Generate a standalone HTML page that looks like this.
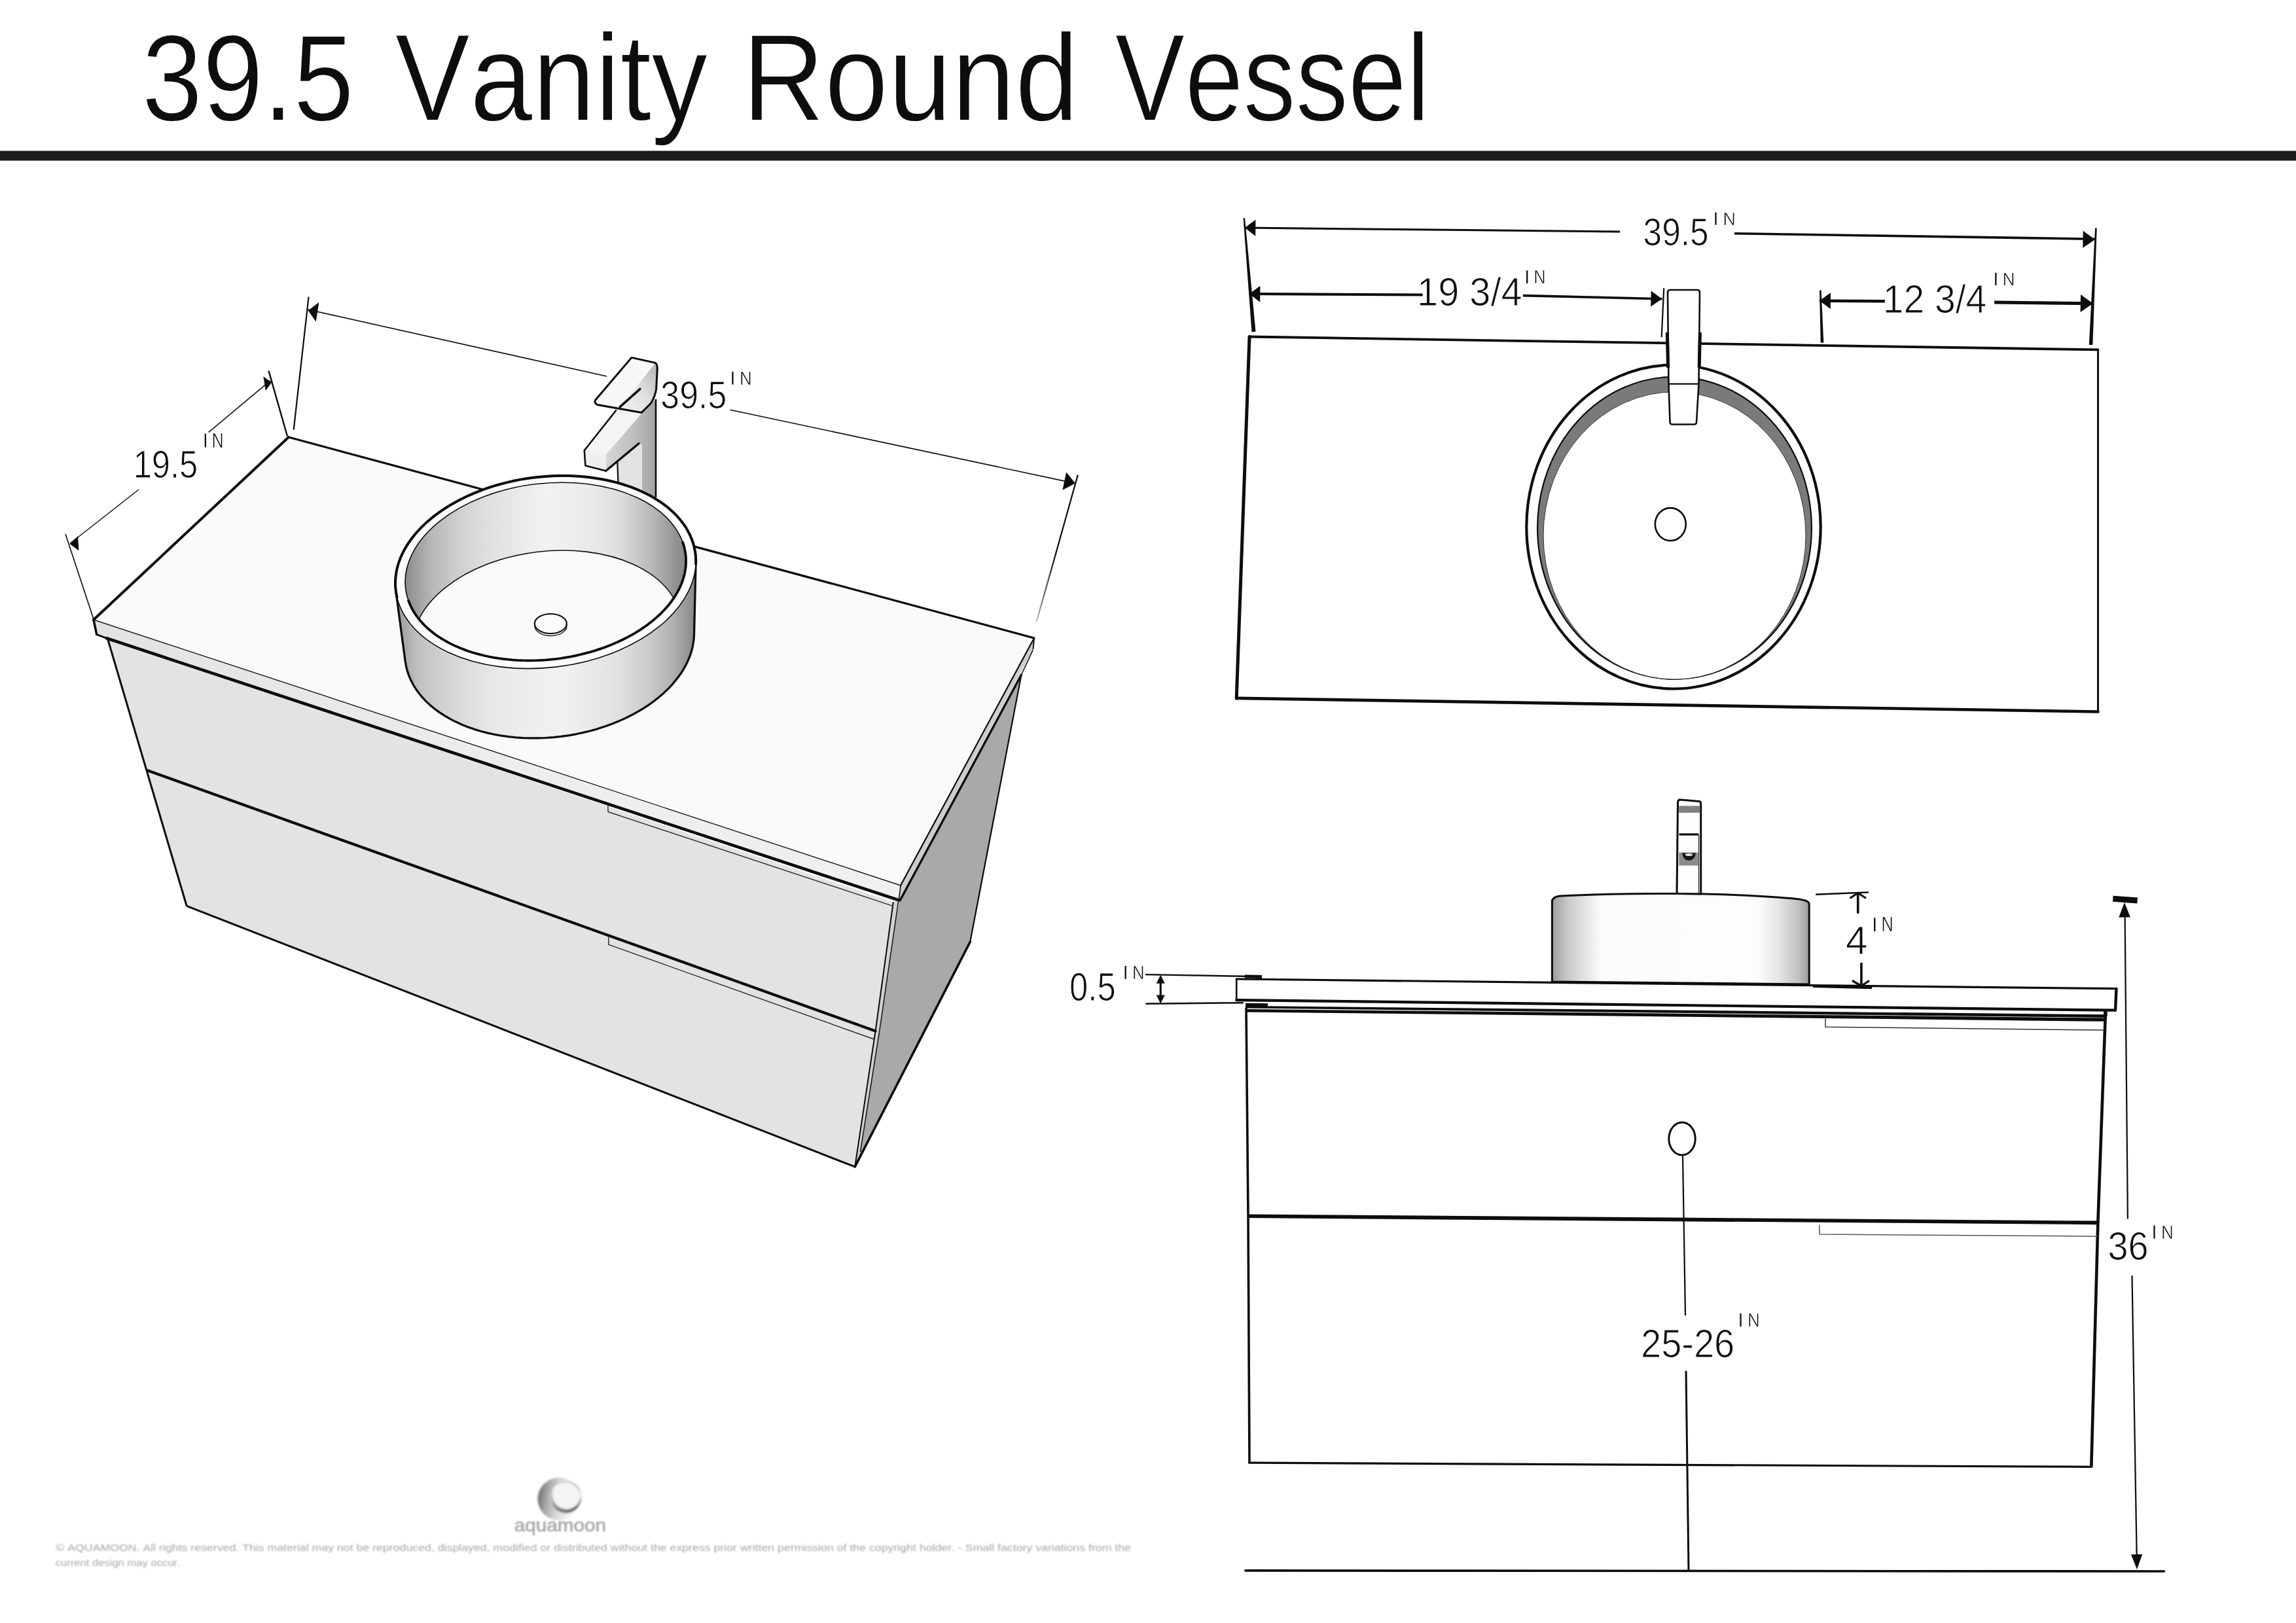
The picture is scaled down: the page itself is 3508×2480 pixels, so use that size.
<!DOCTYPE html>
<html><head><meta charset="utf-8"><title>39.5 Vanity Round Vessel</title>
<style>html,body{margin:0;padding:0;background:#fff;}body{width:3508px;height:2480px;overflow:hidden;}svg{display:block;font-family:"Liberation Sans",sans-serif;font-kerning:none;}</style>
</head><body>
<svg width="3508" height="2480" viewBox="0 0 3508 2480">
<defs>
<linearGradient id="gBody" gradientUnits="userSpaceOnUse" x1="604" y1="0" x2="1063" y2="0">
<stop offset="0" stop-color="#9c9c9c"/><stop offset="0.02" stop-color="#a2a2a2"/><stop offset="0.074" stop-color="#c0c0c0"/><stop offset="0.18" stop-color="#d5d5d5"/><stop offset="0.32" stop-color="#e8e8e8"/>
<stop offset="0.55" stop-color="#f2f2f2"/><stop offset="0.75" stop-color="#e0e0e0"/><stop offset="0.854" stop-color="#c8c8c8"/><stop offset="0.924" stop-color="#b0b0b0"/><stop offset="0.987" stop-color="#8e8e8e"/><stop offset="1" stop-color="#888"/>
</linearGradient>
<linearGradient id="gWall" gradientUnits="userSpaceOnUse" x1="618" y1="0" x2="1050" y2="0" gradientTransform="rotate(7 833.6 873.3)">
<stop offset="0" stop-color="#888"/><stop offset="0.046" stop-color="#a0a0a0"/><stop offset="0.10" stop-color="#b8b8b8"/><stop offset="0.195" stop-color="#d0d0d0"/><stop offset="0.305" stop-color="#e1e1e1"/>
<stop offset="0.5" stop-color="#f2f2f2"/><stop offset="0.66" stop-color="#eaeaea"/><stop offset="0.76" stop-color="#dedede"/><stop offset="0.875" stop-color="#b8b8b8"/><stop offset="0.965" stop-color="#909090"/><stop offset="1" stop-color="#888"/>
</linearGradient>
<linearGradient id="gFBasin" gradientUnits="userSpaceOnUse" x1="2371" y1="0" x2="2764" y2="0">
<stop offset="0" stop-color="#9c9c9c"/><stop offset="0.06" stop-color="#c8c8c8"/><stop offset="0.19" stop-color="#fbfbfb"/>
<stop offset="0.80" stop-color="#fdfdfd"/><stop offset="0.88" stop-color="#e6e6e6"/><stop offset="0.96" stop-color="#c0c0c0"/><stop offset="1" stop-color="#9a9a9a"/>
</linearGradient>
<linearGradient id="gLever" gradientUnits="userSpaceOnUse" x1="950" y1="620" x2="1004" y2="570">
<stop offset="0" stop-color="#f0f0f0"/><stop offset="0.5" stop-color="#e0e0e0"/><stop offset="1" stop-color="#bdbdbd"/>
</linearGradient>
<linearGradient id="gSpout" gradientUnits="userSpaceOnUse" x1="925" y1="0" x2="1002" y2="0">
<stop offset="0" stop-color="#d8d8d8"/><stop offset="0.6" stop-color="#bcbcbc"/><stop offset="1" stop-color="#a4a4a4"/>
</linearGradient>
<linearGradient id="gStrip" gradientUnits="userSpaceOnUse" x1="143" y1="0" x2="1376" y2="0">
<stop offset="0" stop-color="#e2e2e2"/><stop offset="0.5" stop-color="#ededed"/><stop offset="1" stop-color="#f0f0f0"/>
</linearGradient>
<linearGradient id="gLogoA" x1="0" y1="0.4" x2="1" y2="0.55">
<stop offset="0" stop-color="#6e6e6e"/><stop offset="0.22" stop-color="#a8a8a8"/><stop offset="0.5" stop-color="#dadada"/><stop offset="0.8" stop-color="#f6f6f6"/><stop offset="1" stop-color="#ffffff"/>
</linearGradient>
<linearGradient id="gLogoB" x1="0.1" y1="0.1" x2="0.6" y2="1">
<stop offset="0" stop-color="#d8dcdc"/><stop offset="0.5" stop-color="#a0a6a6"/><stop offset="1" stop-color="#646a6a"/>
</linearGradient>
<filter id="blur1" x="-5%" y="-20%" width="110%" height="140%"><feGaussianBlur stdDeviation="1.25"/></filter>
<filter id="blur2" x="-20%" y="-20%" width="140%" height="140%"><feGaussianBlur stdDeviation="1.4"/></filter>
<filter id="soft"><feGaussianBlur stdDeviation="0.55"/></filter>
</defs>
<rect width="3508" height="2480" fill="#ffffff"/>
<g filter="url(#soft)">
<text transform="translate(216.85,183.81) scale(0.8834,1)" font-size="188.40" fill="#0c0c0c"  stroke="#fff" stroke-width="1.8">39.5</text>
<text transform="translate(603.43,183.81) scale(0.9123,1)" font-size="188.40" fill="#0c0c0c"  stroke="#fff" stroke-width="1.8">Vanity</text>
<text transform="translate(1133.88,183.81) scale(0.9261,1)" font-size="188.40" fill="#0c0c0c"  stroke="#fff" stroke-width="1.8">Round</text>
<text transform="translate(1703.49,183.81) scale(0.8507,1)" font-size="188.40" fill="#0c0c0c"  stroke="#fff" stroke-width="1.8">Vessel</text>
<rect x="0" y="230.5" width="3508" height="15" fill="#1b1b1b"/>
<path d="M1374.0,1376.0 L1560.5,1031.0 L1482.2,1439.2 L1306.2,1782.9 Z" fill="#a9a9a9" stroke-linejoin="round" />
<path d="M1364.8,1378.4 L1373.0,1376.0 L1343.5,1577.0 L1314.5,1760.0 L1306.2,1782.9 L1337.6,1575.4 Z" fill="#d2d2d2" stroke-linejoin="round" />
<path d="M164.4,975.8 L1364.8,1378.4 L1337.6,1575.4 L1306.2,1782.9 L285.2,1384.3 Z" fill="#e3e3e3" stroke-linejoin="round" />
<path d="M1580.0,975.0 L1376.0,1353.0 L1373.3,1375.5 L1578.5,992.0 Z" fill="#cdcdcd" stroke-linejoin="round" />
<path d="M143.0,947.0 L1376.0,1353.0 L1373.3,1375.5 L147.7,969.5 Z" fill="url(#gStrip)" stroke-linejoin="round" />
<path d="M441.0,668.0 L1580.0,975.0 L1376.0,1353.0 L143.0,947.0 Z" fill="#fafafa" stroke-linejoin="round" />
<line x1="164.4" y1="975.8" x2="285.2" y2="1384.3" stroke="#0a0a0a" stroke-width="3" stroke-linecap="butt" />
<line x1="285.2" y1="1384.3" x2="1306.2" y2="1782.9" stroke="#0a0a0a" stroke-width="3" stroke-linecap="butt" />
<line x1="1364.8" y1="1378.4" x2="1337.6" y2="1575.4" stroke="#0a0a0a" stroke-width="2" stroke-linecap="butt" />
<line x1="1337.6" y1="1575.4" x2="1306.2" y2="1782.9" stroke="#0a0a0a" stroke-width="2" stroke-linecap="butt" />
<line x1="1372.5" y1="1378.0" x2="1343.5" y2="1577.0" stroke="#1a1a1a" stroke-width="1.6" stroke-linecap="butt" />
<line x1="1343.5" y1="1577.0" x2="1314.5" y2="1760.0" stroke="#1a1a1a" stroke-width="1.6" stroke-linecap="butt" />
<line x1="225.4" y1="1177.3" x2="1337.6" y2="1575.4" stroke="#0a0a0a" stroke-width="4.2" stroke-linecap="round" />
<path d="M929.0,1229.0 L929.0,1240.5 L1364.8,1384.7" fill="none" stroke="#2a2a2a" stroke-width="1.4" stroke-linejoin="round" />
<path d="M929.8,1431.0 L929.8,1443.4 L1335.5,1588.0" fill="none" stroke="#2a2a2a" stroke-width="1.4" stroke-linejoin="round" />
<line x1="1560.5" y1="1031.0" x2="1482.2" y2="1439.2" stroke="#0a0a0a" stroke-width="2.2" stroke-linecap="butt" />
<line x1="1482.2" y1="1439.2" x2="1306.2" y2="1782.9" stroke="#0a0a0a" stroke-width="3.6" stroke-linecap="round" />
<line x1="1374.5" y1="1377.0" x2="1561.0" y2="1030.0" stroke="#0a0a0a" stroke-width="3.4" stroke-linecap="butt" />
<line x1="1561.0" y1="1030.0" x2="1578.3" y2="993.0" stroke="#0a0a0a" stroke-width="1.6" stroke-linecap="butt" />
<line x1="143.0" y1="947.0" x2="1376.0" y2="1353.0" stroke="#1a1a1a" stroke-width="1.4" stroke-linecap="butt" />
<line x1="163.0" y1="975.2" x2="1373.3" y2="1375.5" stroke="#0a0a0a" stroke-width="4.6" stroke-linecap="round" />
<line x1="147.7" y1="969.5" x2="163.0" y2="975.2" stroke="#0a0a0a" stroke-width="2.8" stroke-linecap="round" />
<line x1="143.0" y1="947.0" x2="147.7" y2="969.5" stroke="#0a0a0a" stroke-width="3.6" stroke-linecap="round" />
<line x1="147.7" y1="969.5" x2="164.4" y2="975.8" stroke="#0a0a0a" stroke-width="2.4" stroke-linecap="butt" />
<line x1="1580.0" y1="975.0" x2="1376.0" y2="1353.0" stroke="#0a0a0a" stroke-width="2.2" stroke-linecap="butt" />
<line x1="1580.0" y1="975.0" x2="1578.5" y2="992.0" stroke="#0a0a0a" stroke-width="2" stroke-linecap="butt" />
<line x1="1376.0" y1="1353.0" x2="1373.3" y2="1375.5" stroke="#0a0a0a" stroke-width="1.6" stroke-linecap="butt" />
<line x1="441.0" y1="668.0" x2="143.0" y2="947.0" stroke="#0a0a0a" stroke-width="4" stroke-linecap="round" />
<line x1="441.0" y1="668.0" x2="1580.0" y2="975.0" stroke="#0a0a0a" stroke-width="3.2" stroke-linecap="round" />
<path d="M925.7,694.6 L980.0,632.0 L1002.0,610.0 L1002.0,760.0 L981.0,752.0 L981.0,680.0 L976.0,677.8 L925.7,719.5 Z" fill="url(#gSpout)" stroke-linejoin="round" />
<path d="M943.3,705.8 L976.0,677.8 L981.0,680.0 L981.0,752.0 L944.5,738.0 Z" fill="#e3e3e3" stroke-linejoin="round" />
<path d="M941.7,626.5 L980.0,632.0 L925.7,694.6 L892.8,688.2 Z" fill="#f4f4f4" stroke-linejoin="round" />
<path d="M892.8,688.2 L925.7,694.6 L925.7,719.5 L894.4,711.5 Z" fill="#efefef" stroke-linejoin="round" />
<path d="M941.7,626.5 L892.8,688.2 L894.4,711.5 L925.7,719.5" fill="none" stroke="#0a0a0a" stroke-width="2.6" stroke-linejoin="round" />
<line x1="925.7" y1="719.5" x2="976.0" y2="677.8" stroke="#0a0a0a" stroke-width="3.4" stroke-linecap="round" />
<line x1="943.3" y1="705.8" x2="944.5" y2="738.0" stroke="#0a0a0a" stroke-width="2.2" stroke-linecap="butt" />
<line x1="1002.0" y1="610.0" x2="1002.0" y2="760.0" stroke="#0a0a0a" stroke-width="2.6" stroke-linecap="butt" />
<path d="M1001.0,554.4 L1004.2,565.0 L1002.6,595.3 L994.6,616.0 L980.2,630.5 L947.0,623.5 Z" fill="url(#gLever)" stroke-linejoin="round" />
<path d="M965.0,546.4 L1001.0,554.4 L947.0,623.5 L909.0,612.5 Z" fill="#f8f8f8" stroke-linejoin="round" />
<path d="M965,546.4 L1001,554.4 Q1004.5,556 1004.2,565 L1002.6,595.3 Q1000,608 994.6,616 L980.2,630.5 L912.9,618.5 Q907.5,616 909.5,611.5 Z" fill="none" stroke="#0a0a0a" stroke-width="3" stroke-linejoin="round"/>
<line x1="977.8" y1="594.5" x2="947.3" y2="621.7" stroke="#0a0a0a" stroke-width="3.6" stroke-linecap="round" />
<path d="M604.1,894.8 L604.1,887.1 L604.8,879.4 L606.0,871.7 L607.9,864.0 L610.4,856.3 L613.6,848.7 L617.3,841.1 L621.6,833.7 L626.5,826.3 L632.0,819.1 L638.0,812.0 L644.5,805.1 L651.6,798.4 L659.2,791.9 L667.2,785.6 L675.8,779.6 L684.7,773.8 L694.0,768.3 L703.8,763.1 L713.9,758.2 L724.3,753.6 L735.0,749.4 L746.0,745.5 L757.2,741.9 L768.6,738.7 L780.3,735.9 L792.0,733.4 L803.9,731.4 L815.8,729.7 L827.9,728.4 L839.9,727.5 L851.9,727.1 L863.8,727.0 L875.7,727.3 L887.4,728.1 L899.0,729.2 L910.5,730.8 L921.7,732.7 L932.7,735.0 L943.4,737.7 L953.8,740.8 L963.8,744.2 L973.6,748.0 L982.9,752.2 L991.8,756.6 L1000.3,761.5 L1008.3,766.6 L1015.9,772.0 L1022.9,777.7 L1029.5,783.6 L1035.5,789.8 L1040.9,796.2 L1045.8,802.9 L1050.1,809.7 L1053.8,816.7 L1056.9,823.9 L1059.4,831.2 L1061.2,838.7 L1062.5,846.2 L1063.1,853.8 L1063.1,861.5 L1060.5,971.0 L1059.9,978.6 L1058.7,986.1 L1056.9,993.7 L1054.5,1001.3 L1051.5,1008.8 L1047.9,1016.2 L1043.8,1023.6 L1039.1,1030.8 L1033.8,1037.9 L1028.0,1044.8 L1021.8,1051.6 L1015.0,1058.2 L1007.7,1064.6 L999.9,1070.7 L991.8,1076.7 L983.2,1082.3 L974.2,1087.7 L964.8,1092.8 L955.1,1097.6 L945.1,1102.1 L934.8,1106.3 L924.2,1110.1 L913.4,1113.6 L902.4,1116.7 L891.2,1119.4 L879.9,1121.8 L868.5,1123.8 L857.0,1125.4 L845.4,1126.7 L833.9,1127.5 L822.3,1127.9 L810.8,1127.9 L799.4,1127.6 L788.0,1126.8 L776.9,1125.7 L765.9,1124.1 L755.0,1122.2 L744.5,1119.9 L734.2,1117.2 L724.1,1114.1 L714.4,1110.7 L705.1,1107.0 L696.1,1102.8 L687.5,1098.4 L679.3,1093.7 L671.5,1088.6 L664.2,1083.3 L657.4,1077.7 L651.1,1071.8 L645.3,1065.7 L640.1,1059.3 L635.3,1052.7 L631.2,1046.0 L627.6,1039.1 L624.6,1032.0 L622.2,1024.8 L620.4,1017.5 L619.1,1010.0 L604.7,902.4 Z" fill="url(#gBody)" stroke="#0a0a0a" stroke-width="3.2" stroke-linejoin="round" />
<ellipse cx="833.6" cy="874.3" rx="230.6" ry="145.7" transform="rotate(-7 833.6 874.3)" fill="#fdfdfd" stroke="#0a0a0a" stroke-width="1.6"/>
<path d="M606.5,912.4 L605.4,907.2 L604.7,901.8 L604.2,896.5 L604.0,891.1 L604.2,885.7 L604.7,880.3 L605.4,874.9 L606.5,869.4 L607.9,864.0 L609.6,858.6 L611.6,853.2 L613.9,847.9 L616.5,842.5 L619.5,837.3 L622.6,832.0 L626.1,826.9 L629.9,821.8 L633.9,816.7 L638.2,811.8 L642.8,806.9 L647.6,802.1 L652.7,797.4 L658.0,792.9 L663.6,788.4 L669.4,784.0 L675.4,779.8 L681.7,775.7 L688.1,771.8 L694.8,767.9 L701.6,764.2 L708.6,760.7 L715.8,757.3 L723.1,754.1 L730.6,751.1 L738.2,748.2 L746.0,745.4 L753.9,742.9 L761.8,740.5 L769.9,738.4 L778.1,736.4 L786.3,734.5 L794.6,732.9 L803.0,731.5 L811.4,730.3 L819.8,729.2 L828.3,728.4 L836.7,727.7 L845.2,727.3 L853.6,727.0 L862.1,727.0 L870.4,727.1 L878.7,727.5 L887.0,728.0 L895.2,728.8 L903.3,729.7 L911.3,730.9 L919.2,732.2 L927.0,733.8 L934.7,735.5 L942.2,737.4 L949.6,739.5 L956.8,741.8 L963.8,744.2 L970.7,746.9 L977.4,749.7 L983.9,752.7 L990.2,755.8 L996.3,759.1 L1002.1,762.6 L1007.8,766.2 L1013.1,769.9 L1018.3,773.8 L1023.2,777.9 L1027.8,782.0 L1032.2,786.3 L1036.3,790.7 L1040.1,795.3 L1043.7,799.9 L1047.0,804.6 L1049.9,809.5 L1052.6,814.4 L1055.0,819.4 L1057.1,824.5 L1058.9,829.6 L1060.3,834.8 L1061.5,840.1 L1062.4,845.4 L1062.9,850.7 L1063.2,856.1 L1063.1,861.5" fill="none" stroke="#0a0a0a" stroke-width="4" stroke-linejoin="round" stroke-linecap="round"/>
<clipPath id="cpInner"><ellipse cx="833.6" cy="873.3" rx="215.5" ry="134.5" transform="rotate(-7 833.6 873.3)"/></clipPath>
<ellipse cx="833.6" cy="873.3" rx="215.5" ry="134.5" transform="rotate(-7 833.6 873.3)" fill="url(#gWall)" stroke="#0a0a0a" stroke-width="1.6"/>
<g clip-path="url(#cpInner)"><ellipse cx="835.5" cy="970.5" rx="206" ry="128" transform="rotate(-7 835.5 970.5)" fill="#fafafa" stroke="#111" stroke-width="1.6"/></g>
<path d="M1043.1,828.7 L1044.6,833.2 L1045.8,837.8 L1046.8,842.4 L1047.5,847.0 L1047.9,851.7 L1048.1,856.4 L1048.0,861.1 L1047.7,865.9 L1047.1,870.6 L1046.2,875.4 L1045.1,880.1 L1043.7,884.9 L1042.1,889.6 L1040.2,894.3 L1038.1,899.0 L1035.7,903.6 L1033.0,908.2 L1030.2,912.8 L1027.0,917.3 L1023.7,921.8 L1020.1,926.2 L1016.3,930.5 L1012.2,934.8 L1008.0,939.0 L1003.5,943.1 L998.8,947.1 L994.0,951.1 L988.9,954.9 L983.6,958.7 L978.2,962.3 L972.6,965.9 L966.8,969.3 L960.8,972.6 L954.7,975.8 L948.5,978.8 L942.1,981.8 L935.6,984.6 L928.9,987.2 L922.2,989.8 L915.3,992.1 L908.3,994.4 L901.3,996.5 L894.1,998.4 L886.9,1000.2 L879.6,1001.8 L872.3,1003.3 L864.9,1004.6 L857.4,1005.8 L850.0,1006.8 L842.5,1007.6 L835.0,1008.3 L827.5,1008.8 L820.1,1009.2 L812.6,1009.3 L805.2,1009.3 L797.8,1009.2 L790.4,1008.9 L783.1,1008.4 L775.8,1007.7 L768.7,1006.9 L761.6,1005.9 L754.6,1004.8 L747.7,1003.5 L740.8,1002.0 L734.2,1000.4 L727.6,998.7 L721.1,996.7 L714.8,994.7 L708.7,992.4 L702.7,990.1 L696.8,987.6 L691.1,984.9 L685.6,982.1 L680.3,979.2 L675.1,976.2 L670.2,973.0 L665.4,969.7 L660.9,966.3 L656.6,962.8 L652.4,959.2 L648.5,955.4 L644.9,951.6 L641.4,947.7 L638.2,943.6 L635.2,939.5 L632.5,935.3 L630.0,931.1 L627.8,926.7 L625.8,922.3 L624.1,917.9" fill="none" stroke="#0a0a0a" stroke-width="3.8" stroke-linejoin="round" stroke-linecap="round"/>
<ellipse cx="841.5" cy="956.5" rx="24.5" ry="15" fill="#f6f6f6" stroke="#222" stroke-width="1.4"/>
<ellipse cx="841.3" cy="953" rx="24.5" ry="15" fill="#fbfbfb" stroke="#111" stroke-width="2.2"/>
<line x1="100.0" y1="816.0" x2="143.0" y2="946.0" stroke="#0a0a0a" stroke-width="1.6" stroke-linecap="butt" />
<line x1="410.5" y1="566.7" x2="439.0" y2="666.5" stroke="#0a0a0a" stroke-width="2.4" stroke-linecap="butt" />
<line x1="107.6" y1="830.0" x2="212.0" y2="748.0" stroke="#0a0a0a" stroke-width="1.5" stroke-linecap="butt" />
<line x1="318.6" y1="660.6" x2="413.0" y2="581.7" stroke="#0a0a0a" stroke-width="1.5" stroke-linecap="butt" />
<path d="M106.5,831.0 L119.0,819.2 L120.3,841.2 Z" fill="#0a0a0a" stroke-linejoin="round" />
<path d="M415.0,584.5 L405.8,597.1 L402.4,575.3 Z" fill="#0a0a0a" stroke-linejoin="round" />
<text transform="translate(203.64,730.10) scale(0.8510,1)" font-size="59.58" fill="#0a0a0a"  stroke="#fff" stroke-width="1.1">19.5</text>
<rect x="312.7" y="662.7" width="2.3" height="20.7" fill="#111"/>
<text transform="translate(323.77,683.62) scale(0.8052,1)" font-size="30.74" fill="#111"  stroke="#fff" stroke-width="0.5">N</text>
<line x1="471.6" y1="453.5" x2="448.7" y2="656.6" stroke="#0a0a0a" stroke-width="2.2" stroke-linecap="butt" />
<line x1="1646.8" y1="725.6" x2="1612.0" y2="850.0" stroke="#0a0a0a" stroke-width="2.2" stroke-linecap="butt" />
<linearGradient id="gFade" gradientUnits="userSpaceOnUse" x1="0" y1="850" x2="0" y2="950"><stop offset="0" stop-color="#0a0a0a"/><stop offset="1" stop-color="#0a0a0a" stop-opacity="0.25"/></linearGradient>
<line x1="1612" y1="850" x2="1583.7" y2="949.6" stroke="url(#gFade)" stroke-width="2.2"/>
<line x1="470.4" y1="473.0" x2="927.0" y2="575.0" stroke="#0a0a0a" stroke-width="1.6" stroke-linecap="butt" />
<line x1="1115.6" y1="626.2" x2="1642.9" y2="738.6" stroke="#0a0a0a" stroke-width="1.6" stroke-linecap="butt" />
<path d="M470.7,474.5 L487.3,461.9 L482.8,491.5 Z" fill="#0a0a0a" stroke-linejoin="round" />
<path d="M1642.9,738.6 L1623.4,748.7 L1629.2,721.4 Z" fill="#0a0a0a" stroke-linejoin="round" />
<text transform="translate(1009.33,623.50) scale(0.8714,1)" font-size="59.58" fill="#0a0a0a"  stroke="#fff" stroke-width="1.1">39.5</text>
<rect x="1118.3" y="568.0" width="2.3" height="19.5" fill="#111"/>
<text transform="translate(1129.98,587.73) scale(0.8960,1)" font-size="29.00" fill="#111"  stroke="#fff" stroke-width="0.5">N</text>
<path d="M1909.0,514.5 L3205.5,534.4 L3205.5,1087.5 L1889.2,1066.9 Z" fill="#ffffff" stroke-linejoin="round" />
<line x1="1909.0" y1="514.5" x2="3205.5" y2="534.4" stroke="#0a0a0a" stroke-width="3.8" stroke-linecap="round" />
<line x1="3205.5" y1="534.4" x2="3205.5" y2="1087.5" stroke="#0a0a0a" stroke-width="3" stroke-linecap="round" />
<line x1="1889.2" y1="1066.9" x2="3205.5" y2="1087.5" stroke="#0a0a0a" stroke-width="4.6" stroke-linecap="round" />
<line x1="1909.0" y1="514.5" x2="1889.2" y2="1066.9" stroke="#0a0a0a" stroke-width="5" stroke-linecap="round" />
<ellipse cx="2557" cy="805" rx="224.7" ry="247.5" fill="#fff" stroke="#0a0a0a" stroke-width="4.2"/>
<ellipse cx="2558.5" cy="806.8" rx="209.4" ry="231" fill="#7a7a7a" stroke="#0a0a0a" stroke-width="2.2"/>
<ellipse cx="2558.5" cy="818.4" rx="200.5" ry="219.6" fill="#fff" stroke="#333" stroke-width="1"/>
<ellipse cx="2552.3" cy="801.1" rx="23.5" ry="25" fill="#fff" stroke="#0a0a0a" stroke-width="2.6"/>
<path d="M2552,443 L2593,443 Q2597,443 2597,447 L2595.5,586.7 L2592,645 Q2592,648.5 2588,648.5 L2555.5,648.5 Q2551.5,648.5 2551.5,645 L2549.5,586.7 L2548,447 Q2548,443 2552,443 Z" fill="#fff" stroke="#0a0a0a" stroke-width="2.6"/>
<line x1="2549.5" y1="586.7" x2="2595.5" y2="586.7" stroke="#0a0a0a" stroke-width="2.2" stroke-linecap="butt" />
<line x1="2547.3" y1="508.0" x2="2548.6" y2="562.0" stroke="#0a0a0a" stroke-width="5" stroke-linecap="butt" />
<line x1="2597.4" y1="508.0" x2="2596.2" y2="562.0" stroke="#0a0a0a" stroke-width="5" stroke-linecap="butt" />
<path d="M1899.6,333.2 L1912.5,507.3 L1918.5,506.7 L1902.0,333.0 Z" fill="#0a0a0a" stroke-linejoin="round" />
<path d="M3201.1,348.4 L3191.8,526.9 L3197.4,527.1 L3203.7,348.6 Z" fill="#0a0a0a" stroke-linejoin="round" />
<line x1="1901.8" y1="348.1" x2="2475.0" y2="354.0" stroke="#0a0a0a" stroke-width="3" stroke-linecap="butt" />
<line x1="2650.0" y1="356.8" x2="3200.4" y2="365.2" stroke="#0a0a0a" stroke-width="3.6" stroke-linecap="butt" />
<path d="M1901.8,348.1 L1918.4,335.8 L1918.2,360.8 Z" fill="#0a0a0a" stroke-linejoin="round" />
<path d="M3201.0,366.0 L3182.3,378.7 L3182.7,352.7 Z" fill="#0a0a0a" stroke-linejoin="round" />
<text transform="translate(2510.55,374.50) scale(0.8633,1)" font-size="59.58" fill="#0a0a0a"  stroke="#fff" stroke-width="1.1">39.5</text>
<rect x="2620.3" y="324.5" width="2.3" height="19.1" fill="#111"/>
<text transform="translate(2632.42,343.83) scale(0.9452,1)" font-size="28.42" fill="#111"  stroke="#fff" stroke-width="0.5">N</text>
<line x1="1908.8" y1="449.1" x2="2173.6" y2="450.5" stroke="#0a0a0a" stroke-width="4" stroke-linecap="butt" />
<line x1="2326.9" y1="451.6" x2="2539.4" y2="456.8" stroke="#0a0a0a" stroke-width="3.6" stroke-linecap="butt" />
<path d="M1908.8,449.1 L1925.4,436.7 L1925.2,461.7 Z" fill="#0a0a0a" stroke-linejoin="round" />
<path d="M2539.4,456.8 L2522.1,468.4 L2522.7,444.4 Z" fill="#0a0a0a" stroke-linejoin="round" />
<line x1="2542.2" y1="440.4" x2="2538.7" y2="515.3" stroke="#0a0a0a" stroke-width="2.2" stroke-linecap="butt" />
<text transform="translate(2165.11,467.10) scale(0.9571,1)" font-size="60.31" fill="#0a0a0a"  stroke="#fff" stroke-width="1.1">19 3/4</text>
<rect x="2332.0" y="413.3" width="2.3" height="19.8" fill="#111"/>
<text transform="translate(2343.37,433.33) scale(0.8618,1)" font-size="29.43" fill="#111"  stroke="#fff" stroke-width="0.5">N</text>
<path d="M2780.0,443.6 L2781.7,523.8 L2786.3,523.6 L2782.6,443.6 Z" fill="#0a0a0a" stroke-linejoin="round" />
<line x1="2779.9" y1="459.6" x2="2879.9" y2="460.3" stroke="#0a0a0a" stroke-width="4.6" stroke-linecap="butt" />
<line x1="3047.1" y1="462.0" x2="3195.2" y2="463.8" stroke="#0a0a0a" stroke-width="5" stroke-linecap="butt" />
<path d="M2779.9,459.6 L2797.0,447.2 L2796.8,472.2 Z" fill="#0a0a0a" stroke-linejoin="round" />
<path d="M3197.8,463.8 L3178.6,477.1 L3179.0,450.1 Z" fill="#0a0a0a" stroke-linejoin="round" />
<text transform="translate(2876.76,477.50) scale(0.9347,1)" font-size="61.03" fill="#0a0a0a"  stroke="#fff" stroke-width="1.1">12 3/4</text>
<rect x="3048.2" y="416.8" width="2.3" height="19.1" fill="#111"/>
<text transform="translate(3059.79,436.12) scale(0.9081,1)" font-size="28.42" fill="#111"  stroke="#fff" stroke-width="0.5">N</text>
<path d="M2371.4,1500 L2371.4,1377 Q2372,1371 2382,1369.2 Q2470,1364.6 2570,1365.6 Q2680,1367 2748.5,1373.9 Q2764,1376 2764.2,1381 L2764.2,1504 Z" fill="url(#gFBasin)" stroke="#0a0a0a" stroke-width="3" stroke-linejoin="round"/>
<path d="M2567,1222 L2596,1224.5 Q2598.7,1225 2598.7,1228 L2598.7,1366 L2562,1365.5 L2563.5,1226 Q2563.8,1222 2567,1222 Z" fill="#fdfdfd" stroke="#0a0a0a" stroke-width="3" stroke-linejoin="round"/>
<rect x="2565.2" y="1231.4" width="32" height="10.5" fill="#808080"/>
<rect x="2565.2" y="1302.6" width="29.5" height="20" fill="#8c8c8c"/>
<path d="M2570,1303.5 L2591,1303.5 Q2589,1315 2580.5,1315 Q2572,1315 2570,1303.5 Z" fill="#151515"/>
<ellipse cx="2580.5" cy="1306" rx="6" ry="2" fill="#e0e0e0"/>
<line x1="2565.5" y1="1275.0" x2="2595.0" y2="1275.0" stroke="#0a0a0a" stroke-width="3.2" stroke-linecap="butt" />
<line x1="2595.5" y1="1275.0" x2="2595.5" y2="1365.0" stroke="#333" stroke-width="1.4" stroke-linecap="butt" />
<path d="M1889.2,1496.0 L3231.0,1510.7 L3233.5,1513.0 L3232.5,1541.5 L3230.0,1543.7 L1889.2,1528.2 Z" fill="#fff" stroke-linejoin="round" />
<line x1="1889.2" y1="1496.0" x2="3232.0" y2="1510.7" stroke="#0a0a0a" stroke-width="3.2" stroke-linecap="round" />
<line x1="1889.2" y1="1528.2" x2="3231.0" y2="1543.7" stroke="#0a0a0a" stroke-width="4.2" stroke-linecap="round" />
<line x1="1889.2" y1="1496.0" x2="1889.2" y2="1528.2" stroke="#0a0a0a" stroke-width="2.6" stroke-linecap="butt" />
<line x1="3233.5" y1="1511.0" x2="3232.0" y2="1543.7" stroke="#0a0a0a" stroke-width="4.4" stroke-linecap="round" />
<path d="M1903.0,1540.6 L3218.0,1554.9 L3218.0,1550.3 L1903.0,1537.0 Z" fill="#0a0a0a" stroke-linejoin="round" />
<path d="M1903.0,1546.4 L3218.0,1560.8 L3218.0,1555.6 L1903.0,1542.0 Z" fill="#0a0a0a" stroke-linejoin="round" />
<line x1="3216.9" y1="1544.0" x2="3216.9" y2="1553.0" stroke="#0a0a0a" stroke-width="5.5" stroke-linecap="butt" />
<line x1="1901.7" y1="1491.9" x2="1928.0" y2="1492.4" stroke="#0a0a0a" stroke-width="5" stroke-linecap="butt" />
<line x1="1903.0" y1="1536.0" x2="1937.0" y2="1536.6" stroke="#0a0a0a" stroke-width="6.5" stroke-linecap="butt" />
<path d="M1904.0,1540.0 L1907.0,1857.3 L1909.0,2235.2" fill="none" stroke="#0a0a0a" stroke-width="3.6" stroke-linejoin="round" />
<path d="M3216.8,1550.4 L3205.4,1867.4 L3195.3,2241.4" fill="none" stroke="#0a0a0a" stroke-width="4.6" stroke-linejoin="round" />
<line x1="1906.5" y1="1858.3" x2="3205.4" y2="1868.4" stroke="#0a0a0a" stroke-width="5.6" stroke-linecap="butt" />
<line x1="1908.5" y1="2235.2" x2="3195.3" y2="2241.4" stroke="#0a0a0a" stroke-width="3.2" stroke-linecap="round" />
<path d="M2789.0,1556.5 L2789.0,1569.3 L3215.2,1574.1" fill="none" stroke="#333" stroke-width="1.5" stroke-linejoin="round" />
<path d="M2779.9,1871.5 L2779.9,1886.1 L3205.4,1889.2" fill="none" stroke="#555" stroke-width="1.5" stroke-linejoin="round" />
<line x1="1903.0" y1="2399.9" x2="3306.5" y2="2401.0" stroke="#0a0a0a" stroke-width="3.6" stroke-linecap="round" />
<ellipse cx="2570" cy="1740" rx="20.2" ry="25" fill="#fff" stroke="#0a0a0a" stroke-width="3"/>
<line x1="2571.0" y1="1766.3" x2="2575.0" y2="2009.9" stroke="#0a0a0a" stroke-width="2.2" stroke-linecap="butt" />
<line x1="2576.0" y1="2094.8" x2="2580.0" y2="2399.5" stroke="#0a0a0a" stroke-width="3" stroke-linecap="butt" />
<text transform="translate(2506.99,2074.09) scale(0.9289,1)" font-size="60.31" fill="#0a0a0a"  stroke="#fff" stroke-width="1.1">25-26</text>
<rect x="2658.4" y="2006.9" width="2.3" height="20.2" fill="#111"/>
<text transform="translate(2670.12,2027.32) scale(0.8685,1)" font-size="30.02" fill="#111"  stroke="#fff" stroke-width="0.5">N</text>
<line x1="3228.3" y1="1373.3" x2="3265.7" y2="1376.0" stroke="#0a0a0a" stroke-width="9" stroke-linecap="butt" />
<path d="M3245.9,1379.1 L3254.9,1401.6 L3237.3,1401.8 Z" fill="#0a0a0a" stroke-linejoin="round" />
<line x1="3246.6" y1="1400.0" x2="3250.9" y2="1862.4" stroke="#0a0a0a" stroke-width="2.2" stroke-linecap="butt" />
<line x1="3257.5" y1="1949.3" x2="3264.8" y2="2385.0" stroke="#0a0a0a" stroke-width="2.2" stroke-linecap="butt" />
<path d="M3265.0,2398.1 L3256.0,2375.2 L3273.2,2375.0 Z" fill="#0a0a0a" stroke-linejoin="round" />
<text transform="translate(3220.48,1924.99) scale(0.9159,1)" font-size="61.03" fill="#0a0a0a"  stroke="#fff" stroke-width="1.1">36</text>
<rect x="3290.3" y="1872.5" width="2.3" height="20.2" fill="#111"/>
<text transform="translate(3302.02,1892.92) scale(0.8685,1)" font-size="30.02" fill="#111"  stroke="#fff" stroke-width="0.5">N</text>
<line x1="2774.1" y1="1366.8" x2="2854.9" y2="1363.5" stroke="#0a0a0a" stroke-width="2.4" stroke-linecap="butt" />
<line x1="2838.7" y1="1366.0" x2="2838.7" y2="1395.8" stroke="#0a0a0a" stroke-width="3.6" stroke-linecap="butt" />
<path d="M2826.5,1372.5 L2838.7,1364.5 L2851.0,1372.5" fill="none" stroke="#0a0a0a" stroke-width="3.2" stroke-linejoin="round" />
<text transform="translate(2820.12,1457.89) scale(0.9867,1)" font-size="61.32" fill="#0a0a0a"  stroke="#fff" stroke-width="1.1">4</text>
<rect x="2863.1" y="1402.4" width="2.3" height="20.8" fill="#111"/>
<text transform="translate(2874.52,1423.42) scale(0.8241,1)" font-size="30.89" fill="#111"  stroke="#fff" stroke-width="0.5">N</text>
<line x1="2843.9" y1="1471.1" x2="2843.9" y2="1505.0" stroke="#0a0a0a" stroke-width="3.6" stroke-linecap="butt" />
<path d="M2830.0,1498.5 L2843.9,1506.5 L2856.0,1498.5" fill="none" stroke="#0a0a0a" stroke-width="3.2" stroke-linejoin="round" />
<line x1="2770.0" y1="1507.0" x2="2860.0" y2="1509.2" stroke="#0a0a0a" stroke-width="4.2" stroke-linecap="butt" />
<text transform="translate(1634.12,1529.39) scale(0.8322,1)" font-size="61.03" fill="#0a0a0a"  stroke="#fff" stroke-width="1.1">0.5</text>
<rect x="1718.5" y="1476.0" width="2.3" height="20.0" fill="#111"/>
<text transform="translate(1730.09,1496.22) scale(0.8682,1)" font-size="29.72" fill="#111"  stroke="#fff" stroke-width="0.5">N</text>
<line x1="1749.8" y1="1489.1" x2="1927.5" y2="1492.3" stroke="#0a0a0a" stroke-width="2.4" stroke-linecap="butt" />
<line x1="1750.5" y1="1533.7" x2="1899.7" y2="1532.3" stroke="#0a0a0a" stroke-width="2.4" stroke-linecap="butt" />
<line x1="1773.2" y1="1495.0" x2="1773.2" y2="1528.0" stroke="#0a0a0a" stroke-width="3" stroke-linecap="butt" />
<path d="M1773.2,1489.8 L1779.7,1502.8 L1766.7,1502.8 Z" fill="#0a0a0a" stroke-linejoin="round" />
<path d="M1773.2,1533.4 L1766.7,1520.4 L1779.7,1520.4 Z" fill="#0a0a0a" stroke-linejoin="round" />
</g>
<g filter="url(#blur2)">
<circle cx="854" cy="2290.5" r="32.5" fill="url(#gLogoA)"/>
<circle cx="865" cy="2288.5" r="24.5" fill="#f3f4f4"/>
<path fill-rule="evenodd" d="M841,2288.8 a23.5,23.5 0 1 0 47,0 a23.5,23.5 0 1 0 -47,0 Z M844.2,2284.6 a21.6,21.6 0 1 0 43.2,0 a21.6,21.6 0 1 0 -43.2,0 Z" fill="url(#gLogoB)"/>
</g>
<g filter="url(#blur1)">
<text transform="translate(785.74,2340.00) scale(1.0574,1)" font-size="28.05" fill="#a9a9a9" stroke="#a9a9a9" stroke-width="0.7">aquamoon</text>
<text transform="translate(85.23,2369.50) scale(1.1505,1)" font-size="15.41" fill="#a6a6a6" >© AQUAMOON. All rights reserved. This material may not be reproduced, displayed, modified or distributed without the express prior written permission of the copyright holder. - Small factory variations from the</text>
<text transform="translate(84.80,2393.00) scale(1.0759,1)" font-size="15.41" fill="#a6a6a6" >current design may occur.</text>
</g>
</svg></body></html>
